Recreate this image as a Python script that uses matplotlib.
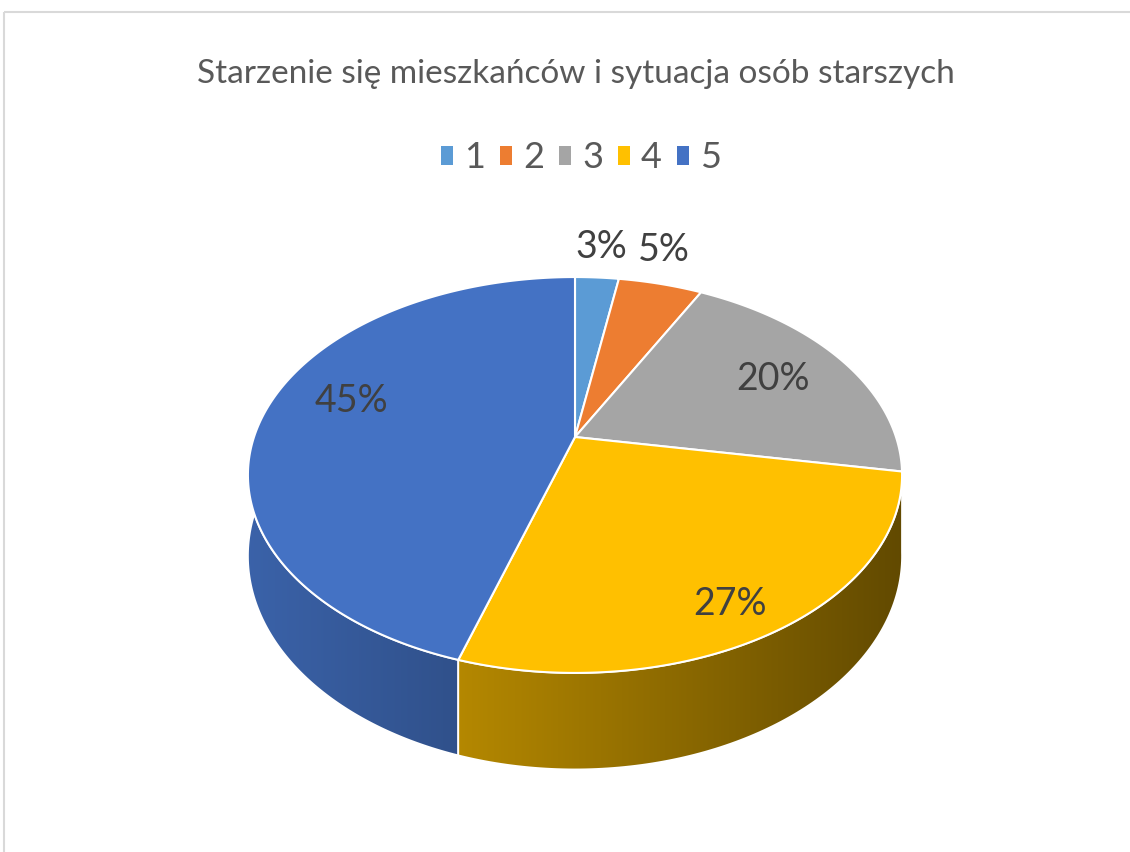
import numpy as np
import matplotlib.pyplot as plt
from matplotlib.colors import to_rgb
from matplotlib.patches import Patch, Polygon, Rectangle

plt.rcParams["font.family"] = ["Lato", "DejaVu Sans"]

# chart data
title = "Starzenie się mieszkańców i sytuacja osób starszych"
categories = ["1", "2", "3", "4", "5"]
shares = [2.6, 5.0, 20.2, 27.0, 45.2]
colors = ["#5B9BD5", "#ED7D31", "#A5A5A5", "#FFC000", "#4472C4"]

# layout (pixel space of the 1130x852 canvas)
W, H = 1130, 852
CX, CY = 575, 437      # where the slices meet
PERSP = -0.1919        # perspective factor of the tilted disc
A = 106.8
K = 321
DEPTH = 78             # thickness of the disc
label_r = [1.22, 1.22, 0.73, 0.85, 0.72]
label_dx = [0, -12, 0, -10, 0]
label_dy = [-2, -6, 0, 6, -16]
side_range = (np.radians(80), np.radians(280))


def project(theta, r=1.0, drop=0.0):
    """Map a point on the pie disc (angle clockwise from top) to pixels."""
    u = r * np.sin(theta)
    v = -r * np.cos(theta)
    w = 1 + PERSP * v
    return CX + K * u / w, (A * v + CY + drop) / w


def shade(x):
    return np.clip(0.86 - 0.00073 * (x - 250), 0.3, 1.0)


fig = plt.figure(figsize=(W / 100, H / 100), dpi=100)
ax = fig.add_axes([0, 0, 1, 1])

total = sum(shares)
bounds = np.concatenate([[0], np.cumsum(shares)]) / total * 2 * np.pi

# side walls, back to front
sides = []
for i in range(len(shares)):
    t0 = max(bounds[i], side_range[0])
    t1 = min(bounds[i + 1], side_range[1])
    if t1 <= t0:
        continue
    th = np.linspace(t0, t1, 120)
    sides.append((np.mean(-np.cos(th)), i, th))
sides.sort()

for z, (_, i, th) in enumerate(sides):
    tx, ty = project(th)
    bx, by = project(th, drop=DEPTH)
    pts = np.column_stack([np.concatenate([tx, bx[::-1]]), np.concatenate([ty, by[::-1]])])
    poly = Polygon(pts, closed=True, facecolor="none", edgecolor="white", lw=1.3, zorder=2 + z + 0.5)
    ax.add_patch(poly)
    x0, x1 = pts[:, 0].min(), pts[:, 0].max()
    y0, y1 = pts[:, 1].min(), pts[:, 1].max()
    xs = np.linspace(x0, x1, 300)
    grad = np.array(to_rgb(colors[i]))[None, :] * shade(xs)[:, None]
    im = ax.imshow(grad[None, :, :], extent=(x0, x1, y1, y0), aspect="auto",
                   interpolation="bilinear", zorder=2 + z)
    im.set_clip_path(poly)

# top faces
for i in range(len(shares)):
    th = np.linspace(bounds[i], bounds[i + 1], 200)
    x, y = project(th)
    pts = np.column_stack([np.concatenate([[CX], x]), np.concatenate([[CY], y])])
    ax.add_patch(Polygon(pts, closed=True, facecolor=colors[i], edgecolor="white",
                         lw=1.5, joinstyle="round", zorder=10))

# percentage labels
for i, s in enumerate(shares):
    mid = (bounds[i] + bounds[i + 1]) / 2
    lx, ly = project(mid, r=label_r[i])
    ax.text(lx + label_dx[i], ly + label_dy[i], f"{round(s / total * 100)}%", fontsize=27,
            color="#404040", ha="center", va="center", zorder=20)

ax.text(576, 83, title, fontsize=24, color="#595959", ha="center", va="baseline")

handles = [Patch(facecolor=c, edgecolor="none") for c in colors]
ax.legend(handles, categories, loc="center", bbox_to_anchor=(581, 158),
          bbox_transform=ax.transData, ncol=5, frameon=False, fontsize=26,
          handlelength=0.33, handleheight=0.42, handletextpad=0.3,
          columnspacing=0.42, labelcolor="#595959", borderpad=0)

ax.add_patch(Rectangle((4, 12), 1200, 900, fill=False, edgecolor="#d9d9d9", lw=1.5))

ax.set_xlim(0, W)
ax.set_ylim(H, 0)
ax.axis("off")
fig.savefig("out.png", dpi=100)
